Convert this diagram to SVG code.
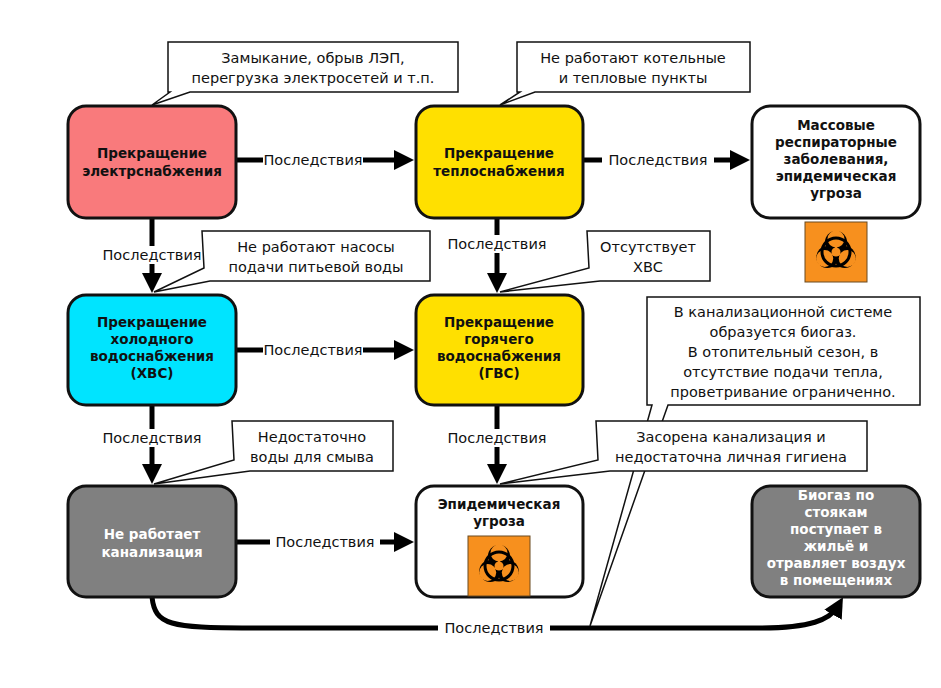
<svg xmlns="http://www.w3.org/2000/svg" width="941" height="688" viewBox="0 0 941 688">
<style>
.n{stroke:#111;stroke-width:3}
.t{font-family:"DejaVu Sans",sans-serif;font-weight:bold;font-size:13.5px;text-anchor:middle;fill:#111}
.w{fill:#fff}
.l{font-family:"DejaVu Sans",sans-serif;font-size:14.5px;text-anchor:middle;fill:#111}
.c{fill:#fff;stroke:#111;stroke-width:1.5}
.e{stroke:#000;stroke-width:5;fill:none}
.lb{fill:#fff}
</style>
<defs>
<marker id="a" markerWidth="4" markerHeight="4" refX="2" refY="2" orient="auto" markerUnits="strokeWidth"><path d="M0,0L4,2L0,4z" fill="#000"/></marker>
<g id="bio">
<rect x="-31" y="-30" width="62" height="60" fill="#f7901e" stroke="#6a4a20" stroke-width="1"/>
<g fill="#000"><circle cx="0" cy="-10" r="11"/><circle cx="8.7" cy="5" r="11"/><circle cx="-8.7" cy="5" r="11"/></g>
<g fill="#f7901e"><circle cx="0" cy="-13" r="8.5"/><circle cx="11.3" cy="6.5" r="8.5"/><circle cx="-11.3" cy="6.5" r="8.5"/></g>
<circle cx="0" cy="0" r="14" fill="none" stroke="#000" stroke-width="3"/>
<circle cx="0" cy="0" r="4.5" fill="#f7901e"/>
<g stroke="#f7901e" stroke-width="2"><path d="M0,0V-6M0,0L5.2,3M0,0L-5.2,3"/></g>
</g>
</defs>
<rect width="941" height="688" fill="#fff"/>
<g id="connectors">
<path class="e" d="M236,160H404" marker-end="url(#a)"/>
<path class="e" d="M583,160H740" marker-end="url(#a)"/>
<path class="e" d="M152,218V283" marker-end="url(#a)"/>
<path class="e" d="M497,218V283" marker-end="url(#a)"/>
<path class="e" d="M236,350H404" marker-end="url(#a)"/>
<path class="e" d="M152,405V474" marker-end="url(#a)"/>
<path class="e" d="M497,405V474" marker-end="url(#a)"/>
<path class="e" d="M236,542H404" marker-end="url(#a)"/>
<path class="e" d="M152,597C155,625 170,628 250,628H760C810,628 830,620 838,606" marker-end="url(#a)"/>
<rect class="lb" x="263" y="151" width="100" height="18"/><text class="l" x="313" y="165">Последствия</text>
<rect class="lb" x="602" y="151" width="112" height="18"/><text class="l" x="658" y="165">Последствия</text>
<rect class="lb" x="96" y="246" width="112" height="18"/><text class="l" x="152" y="260">Последствия</text>
<rect class="lb" x="441" y="235" width="112" height="18"/><text class="l" x="497" y="249">Последствия</text>
<rect class="lb" x="263" y="341" width="100" height="18"/><text class="l" x="313" y="355">Последствия</text>
<rect class="lb" x="96" y="429" width="112" height="18"/><text class="l" x="152" y="443">Последствия</text>
<rect class="lb" x="441" y="429" width="112" height="18"/><text class="l" x="497" y="443">Последствия</text>
<rect class="lb" x="270" y="533" width="110" height="18"/><text class="l" x="325" y="547">Последствия</text>
<rect class="lb" x="438" y="619" width="112" height="18"/><text class="l" x="494" y="633">Последствия</text>
</g>
<g id="callouts">
<path class="c" d="M168,42H458V92H190L152,105L170,92H168Z"/>
<text class="l" x="313" y="63">Замыкание, обрыв ЛЭП,</text><text class="l" x="313" y="83">перегрузка электросетей и т.п.</text>
<path class="c" d="M517,42H750V92H535L500,105L520,92H517Z"/>
<text class="l" x="633" y="63">Не работают котельные</text><text class="l" x="633" y="83">и тепловые пункты</text>
<path class="c" d="M202,231H430V281H210L154,292L204,268Z"/>
<text class="l" x="316" y="252">Не работают насосы</text><text class="l" x="316" y="272">подачи питьевой воды</text>
<path class="c" d="M587,231H710V281H600L500,292L589,268Z"/>
<text class="l" x="648" y="252">Отсутствует</text><text class="l" x="648" y="272">ХВС</text>
<path class="c" d="M647,297H920V405H668L590,626L652,405H647Z"/>
<text class="l" x="783" y="317">В канализационной системе</text><text class="l" x="783" y="337">образуется биогаз.</text>
<text class="l" x="783" y="357">В отопительный сезон, в</text><text class="l" x="783" y="377">отсутствие подачи тепла,</text>
<text class="l" x="783" y="397">проветривание ограниченно.</text>
<path class="c" d="M232,421H393V471H250L154,484L234,460Z"/>
<text class="l" x="312" y="442">Недостаточно</text><text class="l" x="312" y="462">воды для смыва</text>
<path class="c" d="M596,421H867V471H610L500,484L598,460Z"/>
<text class="l" x="731" y="442">Засорена канализация и</text><text class="l" x="731" y="462">недостаточна личная гигиена</text>
</g>
<g id="n1"><rect class="n" x="68" y="106" width="168" height="112" rx="18" fill="#f97a7c"/>
<text class="t" x="152" y="158">Прекращение</text><text class="t" x="152" y="176">электрснабжения</text></g>
<g id="n2"><rect class="n" x="416" y="106" width="167" height="112" rx="18" fill="#ffe000"/>
<text class="t" x="499" y="158">Прекращение</text><text class="t" x="499" y="176">теплоснабжения</text></g>
<g id="n3"><rect class="n" x="752" y="106" width="168" height="112" rx="18" fill="#fff"/>
<text class="t" x="836" y="130">Массовые</text><text class="t" x="836" y="147">респираторные</text><text class="t" x="836" y="164">заболевания,</text><text class="t" x="836" y="181">эпидемическая</text><text class="t" x="836" y="198">угроза</text></g>
<use href="#bio" x="836" y="252"/>
<g id="n4"><rect class="n" x="68" y="295" width="168" height="110" rx="18" fill="#00e4ff"/>
<text class="t" x="152" y="327">Прекращение</text><text class="t" x="152" y="344">холодного</text><text class="t" x="152" y="361">водоснабжения</text><text class="t" x="152" y="378">(ХВС)</text></g>
<g id="n5"><rect class="n" x="416" y="295" width="167" height="110" rx="18" fill="#ffe000"/>
<text class="t" x="499" y="327">Прекращение</text><text class="t" x="499" y="344">горячего</text><text class="t" x="499" y="361">водоснабжения</text><text class="t" x="499" y="378">(ГВС)</text></g>
<g id="n6"><rect class="n" x="68" y="486" width="168" height="111" rx="18" fill="#808080"/>
<text class="t w" x="152" y="539">Не работает</text><text class="t w" x="152" y="557">канализация</text></g>
<g id="n7"><rect class="n" x="416" y="486" width="167" height="111" rx="18" fill="#fff"/>
<text class="t" x="499" y="509">Эпидемическая</text><text class="t" x="499" y="526">угроза</text>
<use href="#bio" x="499" y="566"/></g>
<g id="n8"><rect class="n" x="752" y="486" width="168" height="111" rx="18" fill="#808080"/>
<text class="t w" x="836" y="500">Биогаз по</text><text class="t w" x="836" y="517">стоякам</text><text class="t w" x="836" y="534">поступает в</text><text class="t w" x="836" y="551">жильё и</text><text class="t w" x="836" y="568">отравляет воздух</text><text class="t w" x="836" y="585">в помещениях</text></g>
</svg>
